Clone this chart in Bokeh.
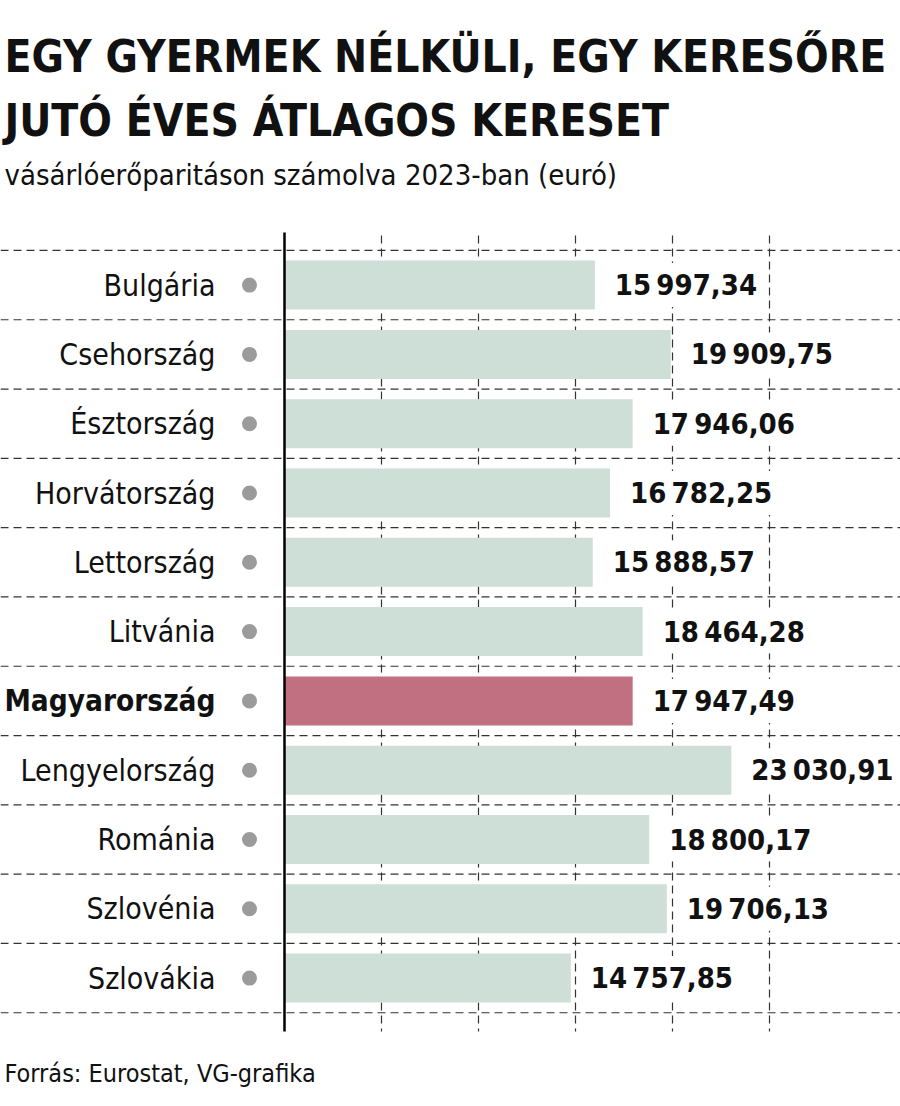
from bokeh.plotting import figure
from bokeh.models import Range1d, ColumnDataSource
from bokeh.core.properties import value
from bokeh.embed import file_html
from bokeh.resources import INLINE

# ---- data ----
countries = ["Bulgária", "Csehország", "Észtország", "Horvátország", "Lettország",
             "Litvánia", "Magyarország", "Lengyelország", "Románia", "Szlovénia", "Szlovákia"]
earnings = [15997.34, 19909.75, 17946.06, 16782.25, 15888.57, 18464.28,
            17947.49, 23030.91, 18800.17, 19706.13, 14757.85]
highlight = "Magyarország"
grid_ticks = [5000, 10000, 15000, 20000, 25000]
title_lines = ["EGY GYERMEK NÉLKÜLI, EGY KERESŐRE", "JUTÓ ÉVES ÁTLAGOS KERESET"]
subtitle = "vásárlóerőparitáson számolva 2023-ban (euró)"
source_note = "Forrás: Eurostat, VG-grafika"

# ---- layout helpers (pixel -> data) ----
W, H = 900, 1106
AX_PX = 284
PX_PER_EUR = 0.0194
ROW_PX = 69.3
ROW0_PX = 284.6


def X(px):
    return (px - AX_PX) / PX_PER_EUR


def Y(py):
    return (py - ROW0_PX) / ROW_PX


FONT = "'DejaVu Sans Condensed', 'Liberation Sans Narrow', sans-serif"

p = figure(width=W, height=H, x_range=Range1d(X(0), X(W)), y_range=Range1d(Y(H), Y(0)),
           output_backend="svg", toolbar_location=None, min_border=0)
p.axis.visible = False
p.grid.visible = False
p.outline_line_color = None
p.background_fill_color = "white"
p.border_fill_color = "white"

idx = list(range(len(countries)))


def fmt(v):
    s = f"{v:,.2f}"
    return s.replace(",", "\u202f").replace(".", ",")


src = ColumnDataSource(dict(
    y=idx,
    v=earnings,
    name=countries,
    label=[fmt(v) for v in earnings],
    color=["#c07080" if c == highlight else "#cddfd7" for c in countries],
    style=["bold" if c == highlight else "normal" for c in countries],
    size=["29.5px" if c == highlight else "30px" for c in countries],
))

# horizontal dashed separators
n = len(countries)
p.segment(x0=[X(0)] * (n + 1), x1=[X(W)] * (n + 1),
          y0=[i - 0.5 for i in range(n + 1)], y1=[i - 0.5 for i in range(n + 1)],
          line_color="#333333", line_width=1.2, line_dash="8 5")
# vertical dashed grid
p.segment(x0=grid_ticks, x1=grid_ticks, y0=[Y(235)] * len(grid_ticks), y1=[Y(1031)] * len(grid_ticks),
          line_color="#333333", line_width=1.2, line_dash="8 5")

# bars
p.hbar(y="y", left=0, right="v", height=49 / ROW_PX, fill_color="color", line_color=None, source=src)

# axis line
p.segment(x0=[0], x1=[0], y0=[Y(232)], y1=[Y(1031)], line_color="black", line_width=2.5)

# dots
p.scatter(x=X(249), y="y", size=15, fill_color="#9b9b9b", line_color=None, source=src)

# category labels
p.text(x=X(215), y="y", text="name", text_align="right", text_baseline="middle",
       text_font=value(FONT), text_font_size="size", text_font_style="style",
       text_color="#111111", source=src)

# value labels
p.text(x="v", y="y", x_offset=15, text="label", text_align="left", text_baseline="middle",
       text_font=value(FONT), text_font_size="29px", text_font_style="bold",
       text_color="#111111", background_fill_color="white", padding=5, source=src)

# title, subtitle, footer
p.text(x=[X(4)], y=[Y(56)], text=[title_lines[0]], text_baseline="middle",
       text_font=value(FONT), text_font_size="44px", text_font_style="bold", text_color="#111111")
p.text(x=[X(4)], y=[Y(120)], text=[title_lines[1]], text_baseline="middle",
       text_font=value(FONT), text_font_size="44px", text_font_style="bold", text_color="#111111")
p.text(x=[X(4)], y=[Y(174)], text=[subtitle], text_baseline="middle",
       text_font=value(FONT), text_font_size="29px", text_color="#111111")
p.text(x=[X(4)], y=[Y(1073)], text=[source_note], text_baseline="middle",
       text_font=value(FONT), text_font_size="25px", text_color="#111111")

open("out.html", "w").write(file_html(p, INLINE))
